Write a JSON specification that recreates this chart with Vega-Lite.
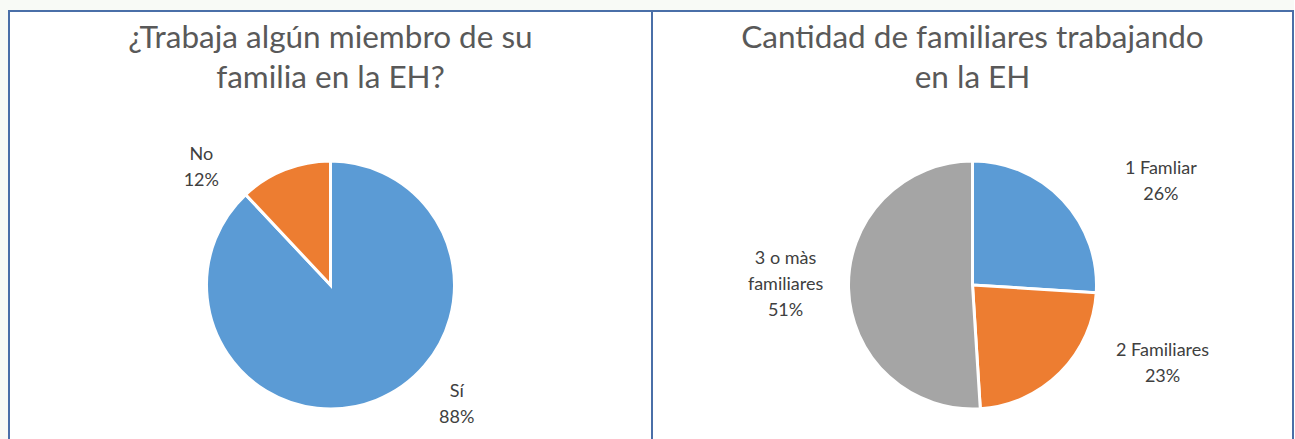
{
  "$schema": "https://vega.github.io/schema/vega-lite/v6.json",
  "background": "#f8faf6",
  "padding": {"left": 8, "top": 10, "right": 0, "bottom": 0},
  "spacing": 0,
  "bounds": "flush",
  "resolve": {"scale": {"color": "independent", "theta": "independent"}},
  "config": {
    "view": {"stroke": "#4a6fa8", "strokeWidth": 2, "fill": "white"},
    "title": {"font": "Lato", "fontSize": 31.5, "fontWeight": "normal", "color": "#595959", "lineHeight": 40, "anchor": "middle", "baseline": "top", "offset": -83, "frame": "group"},
    "text": {"font": "Lato", "fontSize": 18, "color": "#404040", "lineHeight": 26, "lineBreak": "\n", "align": "center", "baseline": "middle"}
  },
  "hconcat": [
    {
      "width": 643,
      "height": 548,
      "view": {"stroke": "#4a6fa8", "strokeWidth": 2, "fill": "white"},
      "title": {"text": ["¿Trabaja algún miembro de su", "familia en la EH?"]},
      "data": {"values": [
        {"k": 1, "cat": "Sí", "pct": 88},
        {"k": 2, "cat": "No", "pct": 12}
      ]},
      "transform": [{"calculate": "datum.cat + '\\n' + datum.pct + '%'", "as": "label"}],
      "encoding": {
        "theta": {"field": "pct", "type": "quantitative", "stack": true},
        "order": {"field": "k", "type": "quantitative"}
      },
      "layer": [
        {
          "mark": {"type": "arc", "radius": 124, "stroke": "white", "strokeWidth": 3},
          "encoding": {
            "color": {"field": "cat", "type": "nominal", "scale": {"domain": ["Sí", "No"], "range": ["#5b9bd5", "#ed7d31"]}, "legend": null}
          }
        },
        {
          "mark": {"type": "text", "radius": 150, "dx": -74, "dy": 9},
          "encoding": {"text": {"condition": {"test": "datum.cat === 'No'", "field": "label"}, "value": ""}}
        },
        {
          "mark": {"type": "text", "radius": 150, "dx": 71, "dy": -32},
          "encoding": {"text": {"condition": {"test": "datum.cat === 'Sí'", "field": "label"}, "value": ""}}
        }
      ]
    },
    {
      "width": 641,
      "height": 548,
      "view": {"stroke": "#4a6fa8", "strokeWidth": 2, "fill": "white"},
      "title": {"text": ["Cantidad de familiares trabajando", "en la EH"]},
      "data": {"values": [
        {"k": 1, "cat": "1 Famliar", "pct": 26},
        {"k": 2, "cat": "2 Familiares", "pct": 23},
        {"k": 3, "cat": "3 o màs familiares", "pct": 51}
      ]},
      "transform": [{"calculate": "replace(datum.cat, 'màs ', 'màs\\n') + '\\n' + datum.pct + '%'", "as": "label"}],
      "encoding": {
        "theta": {"field": "pct", "type": "quantitative", "stack": true},
        "order": {"field": "k", "type": "quantitative"}
      },
      "layer": [
        {
          "mark": {"type": "arc", "radius": 124, "stroke": "white", "strokeWidth": 3},
          "encoding": {
            "color": {"field": "cat", "type": "nominal", "scale": {"domain": ["1 Famliar", "2 Familiares", "3 o màs familiares"], "range": ["#5b9bd5", "#ed7d31", "#a5a5a5"]}, "legend": null}
          }
        },
        {
          "mark": {"type": "text", "radius": 150, "dx": 79, "dy": -13},
          "encoding": {"text": {"condition": {"test": "datum.k === 1", "field": "label"}, "value": ""}}
        },
        {
          "mark": {"type": "text", "radius": 150, "dx": 84, "dy": -40},
          "encoding": {"text": {"condition": {"test": "datum.k === 2", "field": "label"}, "value": ""}}
        },
        {
          "mark": {"type": "text", "radius": 150, "dx": -37, "dy": -31},
          "encoding": {"text": {"condition": {"test": "datum.k === 3", "field": "label"}, "value": ""}}
        }
      ]
    }
  ]
}
